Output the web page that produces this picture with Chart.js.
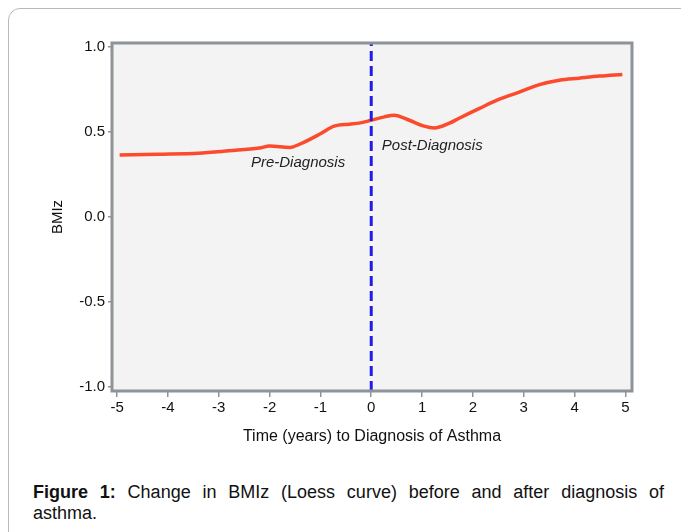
<!DOCTYPE html>
<html>
<head>
<meta charset="utf-8">
<script src="https://cdn.jsdelivr.net/npm/chart.js@4/dist/chart.umd.min.js"></script>
<style>
  body { margin: 0; background: #fff; font-family: "Liberation Sans", Arial, sans-serif; }
  #frame { position: absolute; left: 8px; top: 8px; width: 720px; height: 600px;
           border: 1px solid #b9b9b9; border-radius: 12px; }
  #wrap { position: absolute; left: 0; top: 0; width: 681px; height: 460px; }
  #caption { position: absolute; left: 33px; top: 482px; width: 631px;
             font-size: 18px; line-height: 21px; color: #111; }
  #caption .l1 { text-align: justify; text-align-last: justify; white-space: nowrap; }
</style>
</head>
<body>
<div id="frame"></div>
<div id="wrap"><canvas id="chart" width="681" height="460"></canvas></div>
<div id="caption">
  <div class="l1"><b>Figure 1:</b> Change in BMIz (Loess curve) before and after diagnosis of</div>
  <div>asthma.</div>
</div>
<script>
// loess curve
const curveX = [-4.95, -4.2, -3.4, -2.8, -2.2, -2.0, -1.6, -1.4, -1.0, -0.73, -0.43, -0.24, 0, 0.26, 0.45, 0.75, 1.04, 1.24, 1.54, 1.73, 2.13, 2.52, 2.91, 3.31, 3.7, 4.09, 4.49, 4.94];
const curveY = [0.365, 0.37, 0.376, 0.39, 0.406, 0.418, 0.41, 0.43, 0.49, 0.535, 0.547, 0.553, 0.57, 0.59, 0.6, 0.57, 0.535, 0.524, 0.553, 0.582, 0.64, 0.694, 0.735, 0.78, 0.806, 0.818, 0.83, 0.84];

// diagnosis marker
const diagnosisX = [0];

const xTicks = [-5, -4, -3, -2, -1, 0, 1, 2, 3, 4, 5];
const yTicks = [-1.0, -0.5, 0.0, 0.5, 1.0];
const xRange = [-5.1, 5.13];
const yRange = [-1.025, 1.025];

const noteText = ['Pre-Diagnosis', 'Post-Diagnosis'];
const noteX = [-1.44, 1.2];
const noteY = [0.32, 0.42];

const plotFrame = {
  id: 'plotFrame',
  beforeDatasetsDraw(chart) {
    const { ctx, chartArea: a } = chart;
    ctx.save();
    ctx.fillStyle = '#f3f3f3';
    ctx.fillRect(a.left, a.top, a.right - a.left, a.bottom - a.top);
    ctx.restore();
  },
  afterDatasetsDraw(chart) {
    const { ctx, chartArea: a, scales } = chart;
    ctx.save();
    ctx.font = 'italic 15px "Liberation Sans", Arial, sans-serif';
    ctx.fillStyle = '#222';
    ctx.textAlign = 'center';
    ctx.textBaseline = 'middle';
    noteText.forEach((t, i) => {
      ctx.fillText(t, scales.x.getPixelForValue(noteX[i]), scales.y.getPixelForValue(noteY[i]));
    });
    ctx.strokeStyle = '#8d9397';
    ctx.lineWidth = 3;
    ctx.strokeRect(a.left, a.top, a.right - a.left, a.bottom - a.top);
    ctx.restore();
  }
};

const tickFont = { family: '"Liberation Sans", Arial, sans-serif', size: 15 };

new Chart(document.getElementById('chart'), {
  type: 'line',
  data: {
    datasets: [
      {
        data: [{ x: diagnosisX[0], y: yRange[0] }, { x: diagnosisX[0], y: yRange[1] }],
        borderColor: '#1e1ee8',
        borderWidth: 3,
        borderDash: [10, 5],
        pointRadius: 0
      },
      {
        data: curveX.map((x, i) => ({ x, y: curveY[i] })),
        borderColor: '#fb4a2c',
        borderWidth: 3.5,
        pointRadius: 0,
        cubicInterpolationMode: 'monotone'
      }
    ]
  },
  options: {
    responsive: false,
    animation: false,
    layout: { padding: { left: 45, right: 49, top: 43, bottom: 0 } },
    plugins: { legend: { display: false }, tooltip: { enabled: false } },
    scales: {
      x: {
        type: 'linear',
        min: xRange[0],
        max: xRange[1],
        afterBuildTicks: s => { s.ticks = xTicks.map(v => ({ value: v })); },
        afterFit: s => { s.height = 69; },
        border: { display: false },
        grid: { drawOnChartArea: false, tickLength: 6, color: '#8d9397', lineWidth: 1.5 },
        ticks: { font: tickFont, color: '#111', padding: 2, maxRotation: 0, autoSkip: false, callback: v => String(v) },
        title: { display: true, text: 'Time (years) to Diagnosis of Asthma', color: '#111',
                 font: { family: tickFont.family, size: 16 }, padding: { top: 4, bottom: 14 } }
      },
      y: {
        min: yRange[0],
        max: yRange[1],
        afterBuildTicks: s => { s.ticks = yTicks.map(v => ({ value: v })); },
        afterFit: s => { s.width = 67; },
        border: { display: false },
        grid: { drawOnChartArea: false, tickLength: 4, color: '#8d9397', lineWidth: 1.5 },
        ticks: { font: tickFont, color: '#111', padding: 3, autoSkip: false, callback: v => v.toFixed(1) },
        title: { display: true, text: 'BMIz', color: '#111',
                 font: { family: tickFont.family, size: 15 }, padding: { top: 4, bottom: 4 } }
      }
    }
  },
  plugins: [plotFrame]
});
</script>
</body>
</html>
